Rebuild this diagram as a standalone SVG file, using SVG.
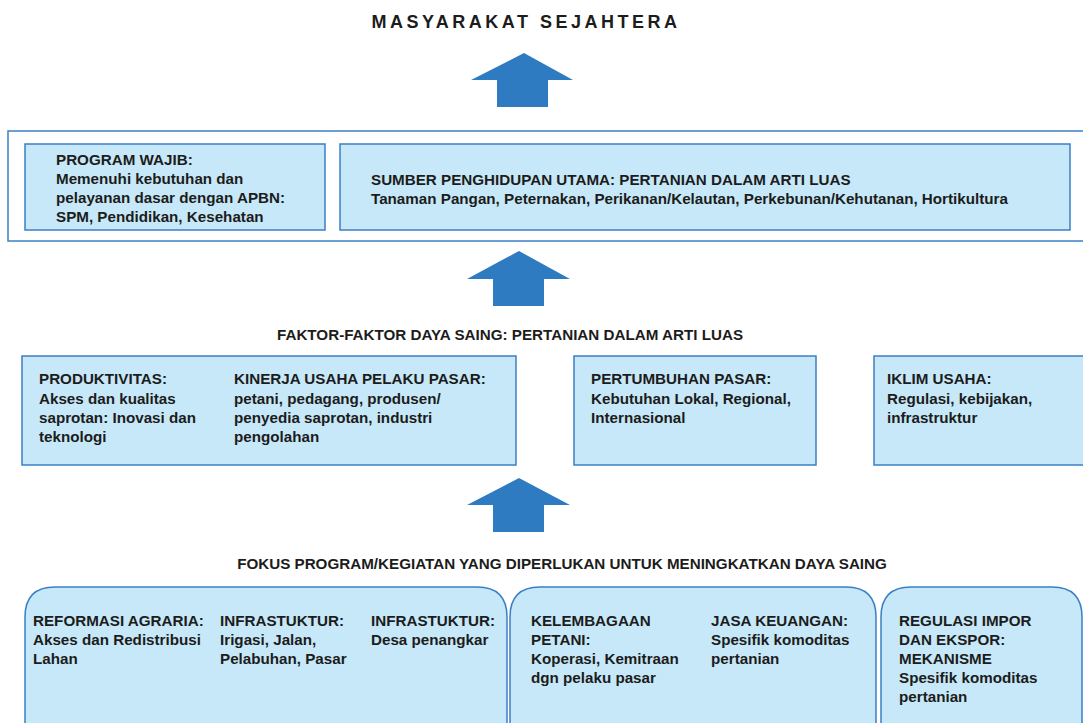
<svg xmlns="http://www.w3.org/2000/svg" width="1083" height="723" viewBox="0 0 1083 723">
<style>
.box{fill:#c6e8f8;stroke:#3b7fc4;stroke-width:1.5}
.outer{fill:#ffffff;stroke:#3b7fc4;stroke-width:1.5}
.arrow{fill:#2e7bc2}
text{font-family:"Liberation Sans",Arial,sans-serif;font-weight:bold;font-size:15.2px;fill:#1c1c1c}
.title{font-size:18px;letter-spacing:3.5px}
</style>
<rect width="1083" height="723" fill="#ffffff"/>
<g id="title"><text class="title" x="526" y="28" text-anchor="middle">MASYARAKAT SEJAHTERA</text></g>
<g id="connectors">
<polygon class="arrow" points="524,53 573,80 548,80 548,107 497,107 497,80 471,80"/>
<polygon class="arrow" points="519,251 570,279 544,279 544,306 493,306 493,279 467,279"/>
<polygon class="arrow" points="519,478 570,505 544,505 544,532 493,532 493,505 467,505"/>
</g>
<g id="top-container"><rect class="outer" x="8" y="131" width="1085" height="110"/></g>
<g id="program-wajib">
<rect class="box" x="25" y="144" width="300" height="86"/>
<text x="56" y="165">PROGRAM WAJIB:</text>
<text x="56" y="184">Memenuhi kebutuhan dan</text>
<text x="56" y="203">pelayanan dasar dengan APBN:</text>
<text x="56" y="222">SPM, Pendidikan, Kesehatan</text>
</g>
<g id="sumber">
<rect class="box" x="340" y="144" width="730" height="86"/>
<text x="371" y="185">SUMBER PENGHIDUPAN UTAMA: PERTANIAN DALAM ARTI LUAS</text>
<text x="371" y="204">Tanaman Pangan, Peternakan, Perikanan/Kelautan, Perkebunan/Kehutanan, Hortikultura</text>
</g>
<g id="faktor-label"><text x="510" y="340" text-anchor="middle">FAKTOR-FAKTOR DAYA SAING: PERTANIAN DALAM ARTI LUAS</text></g>
<g id="produktivitas">
<rect class="box" x="22" y="356" width="494" height="109"/>
<text x="39" y="384">PRODUKTIVITAS:</text>
<text x="39" y="404">Akses dan kualitas</text>
<text x="39" y="423">saprotan: Inovasi dan</text>
<text x="39" y="442">teknologi</text>
<text x="234" y="384">KINERJA USAHA PELAKU PASAR:</text>
<text x="234" y="404">petani, pedagang, produsen/</text>
<text x="234" y="423">penyedia saprotan, industri</text>
<text x="234" y="442">pengolahan</text>
</g>
<g id="pertumbuhan">
<rect class="box" x="574" y="356" width="242" height="109"/>
<text x="591" y="384">PERTUMBUHAN PASAR:</text>
<text x="591" y="404">Kebutuhan Lokal, Regional,</text>
<text x="591" y="423">Internasional</text>
</g>
<g id="iklim">
<rect class="box" x="874" y="356" width="220" height="109"/>
<text x="887" y="384">IKLIM USAHA:</text>
<text x="887" y="404">Regulasi, kebijakan,</text>
<text x="887" y="423">infrastruktur</text>
</g>
<g id="fokus-label"><text x="562" y="569" text-anchor="middle">FOKUS PROGRAM/KEGIATAN YANG DIPERLUKAN UNTUK MENINGKATKAN DAYA SAING</text></g>
<g id="reformasi">
<path class="box" d="M25,740 V617 Q25,587 55,587 H477 Q507,587 507,617 V740"/>
<text x="33" y="626">REFORMASI AGRARIA:</text>
<text x="33" y="645">Akses dan Redistribusi</text>
<text x="33" y="664">Lahan</text>
<text x="220" y="626">INFRASTUKTUR:</text>
<text x="220" y="645">Irigasi, Jalan,</text>
<text x="220" y="664">Pelabuhan, Pasar</text>
<text x="371" y="626">INFRASTUKTUR:</text>
<text x="371" y="645">Desa penangkar</text>
</g>
<g id="kelembagaan">
<path class="box" d="M510,740 V617 Q510,587 540,587 H846 Q876,587 876,617 V740"/>
<text x="531" y="626">KELEMBAGAAN</text>
<text x="531" y="645">PETANI:</text>
<text x="531" y="664">Koperasi, Kemitraan</text>
<text x="531" y="683">dgn pelaku pasar</text>
<text x="711" y="626">JASA KEUANGAN:</text>
<text x="711" y="645">Spesifik komoditas</text>
<text x="711" y="664">pertanian</text>
</g>
<g id="regulasi">
<path class="box" d="M881,740 V617 Q881,587 911,587 H1052 Q1082,587 1082,617 V740"/>
<text x="899" y="626">REGULASI IMPOR</text>
<text x="899" y="645">DAN EKSPOR:</text>
<text x="899" y="664">MEKANISME</text>
<text x="899" y="683">Spesifik komoditas</text>
<text x="899" y="702">pertanian</text>
</g>
</svg>
